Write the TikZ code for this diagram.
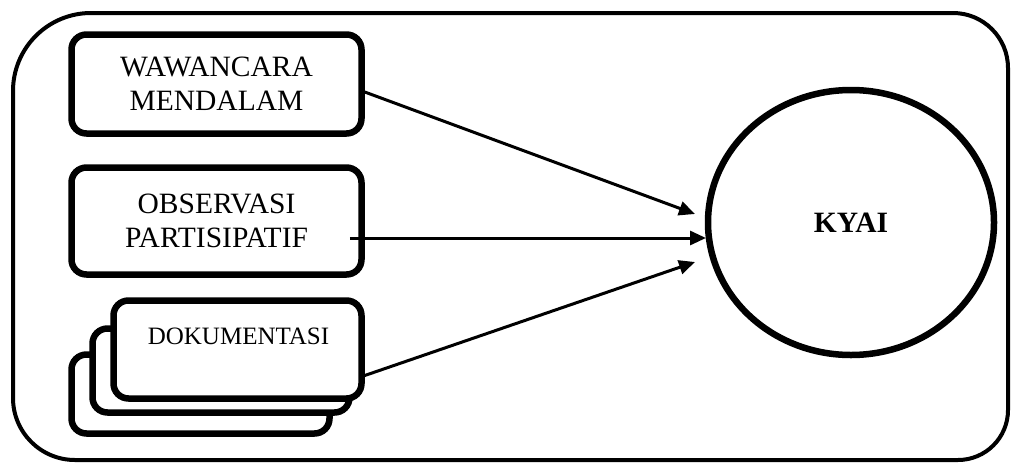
\documentclass[tikz,border=0pt]{standalone}
\usepackage{fontspec}
\setmainfont{Liberation Serif}
\usetikzlibrary{arrows.meta,shapes.geometric}
\begin{document}
\begin{tikzpicture}[x=1pt,y=-1pt,
  methodbox/.style={draw=black, fill=white, line width=6.5pt, rounded corners=15pt,
    rectangle, inner sep=0pt, align=center,
    font=\fontsize{29.5pt}{34pt}\selectfont},
  docbox/.style={methodbox, font=\fontsize{25pt}{30pt}\selectfont},
  conn/.style={line width=3pt, -{Triangle[length=16pt,width=14pt]}}
]
\useasboundingbox (0,0) rectangle (1011,466);
% outer frame
\draw[line width=4pt] (91pt,-13pt) -- (953pt,-13pt)
  arc[start angle=90,end angle=0,radius=55pt] -- (1008pt,-410pt)
  arc[start angle=0,end angle=-90,radius=50pt] -- (75pt,-460pt)
  arc[start angle=270,end angle=180,radius=62pt] -- (13pt,-91pt)
  arc[start angle=180,end angle=90,radius=78pt] -- cycle;
% method boxes
\node[methodbox, minimum width=290pt, minimum height=99pt] (w) at (216.5,84) {WAWANCARA\\MENDALAM};
\node[methodbox, minimum width=290pt, minimum height=107pt] (o) at (216.5,221) {OBSERVASI\\PARTISIPATIF};
% document stack
\node[docbox, minimum width=258pt, minimum height=79pt] (d3) at (200.5,394) {};
\node[docbox, minimum width=257pt, minimum height=84pt] (d2) at (221,370.5) {};
\node[docbox, minimum width=248pt, minimum height=98pt] (d1) at (237.5,349.5) {};
\node[font=\fontsize{25pt}{30pt}\selectfont, inner sep=0pt] (dt) at (238.5,336.5) {DOKUMENTASI};
% kyai
\node[ellipse, draw=black, line width=6.5pt, minimum width=286pt, minimum height=265pt,
  inner sep=0pt, font=\fontsize{29.5pt}{34pt}\selectfont\bfseries] (k) at (851,222.5) {KYAI};
% arrow ends
\coordinate (t1) at (695,214);
\coordinate (t2) at (706,238);
\coordinate (t3) at (695,262);
% connectors
\draw[conn] ([yshift=-8pt]w.east) -- (t1);
\draw[conn] ([xshift=-15pt,yshift=-17pt]o.east) -- (t2);
\draw[conn] ([yshift=-26pt]d1.east) -- (t3);
\end{tikzpicture}
\end{document}
